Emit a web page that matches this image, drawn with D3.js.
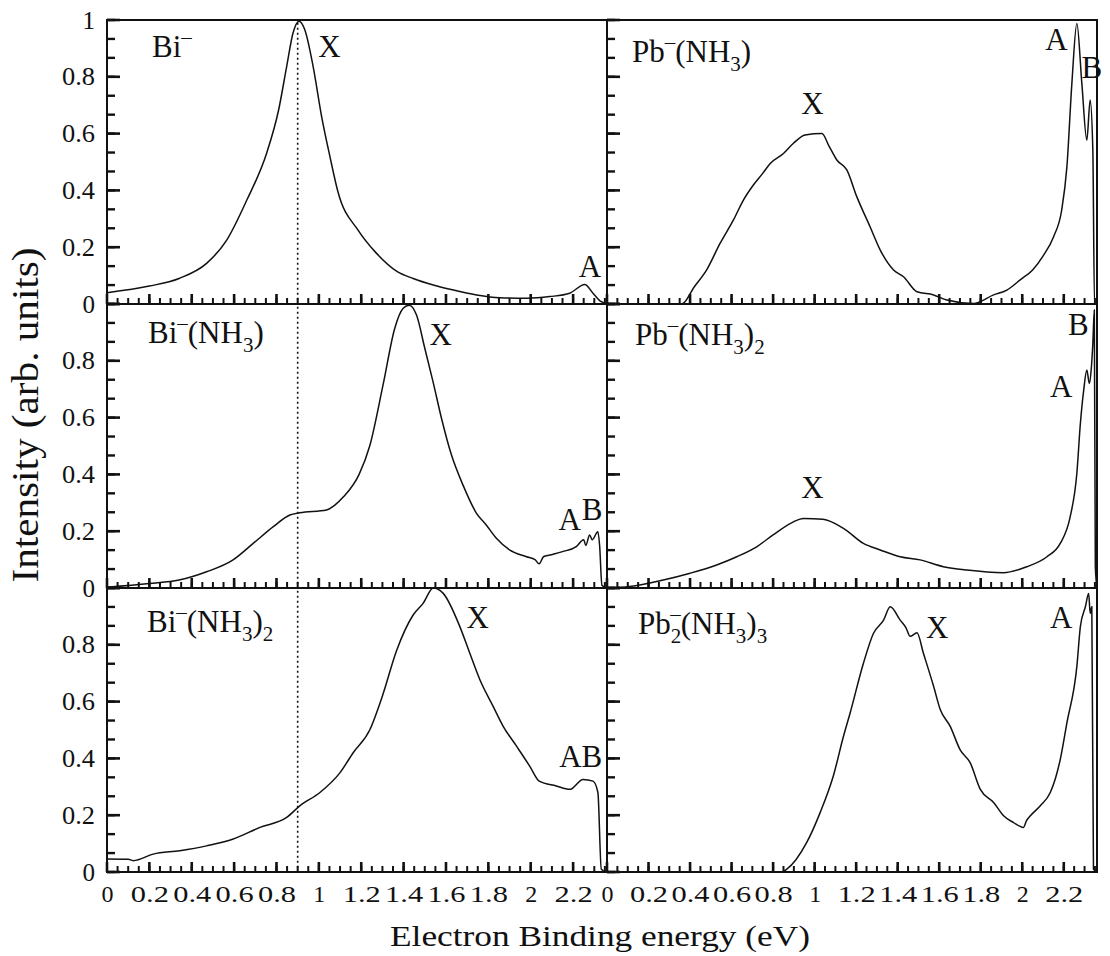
<!DOCTYPE html>
<html>
<head>
<meta charset="utf-8">
<script src="https://cdn.jsdelivr.net/npm/d3@7"></script>
<style>
  body { margin: 0; background: #fff; }
  text { font-family: "Liberation Serif", "Times New Roman", serif; fill: #111; }
</style>
</head>
<body>
<svg id="chart"></svg>
<script>
// spectra: [binding energy (eV), intensity]
var biMinus = [[0,0.04],[0.2,0.063],[0.34,0.09],[0.47,0.143],[0.565,0.225],[0.66,0.366],[0.753,0.53],
  [0.81,0.683],[0.848,0.836],[0.878,0.954],[0.906,0.996],[0.934,0.965],[0.973,0.836],[1.013,0.66],
  [1.052,0.52],[1.09,0.395],[1.185,0.26],[1.27,0.18],[1.37,0.114],[1.445,0.09],[1.54,0.067],
  [1.63,0.05],[1.744,0.032],[1.854,0.022],[1.98,0.02],[2.09,0.026],[2.184,0.038],[2.255,0.069],
  [2.294,0.038],[2.333,0.008],[2.36,0]];

var biNH3 = [[0,0.003],[0.2,0.016],[0.34,0.028],[0.47,0.057],[0.595,0.099],[0.69,0.157],[0.785,0.216],
  [0.863,0.257],[0.91,0.265],[1.036,0.275],[1.115,0.32],[1.19,0.40],[1.24,0.50],[1.303,0.715],
  [1.358,0.914],[1.398,0.985],[1.426,0.996],[1.461,0.961],[1.5,0.844],[1.539,0.726],[1.579,0.597],
  [1.626,0.468],[1.68,0.363],[1.744,0.263],[1.79,0.222],[1.838,0.175],[1.90,0.134],[1.98,0.110],
  [2.02,0.10],[2.04,0.085],[2.06,0.11],[2.09,0.116],[2.15,0.128],[2.215,0.146],[2.25,0.17],
  [2.26,0.15],[2.278,0.187],[2.29,0.17],[2.317,0.198],[2.325,0.151],[2.336,0.01],[2.36,0]];

var biNH3_2 = [[0,0.046],[0.1,0.045],[0.124,0.040],[0.218,0.063],[0.344,0.075],[0.47,0.092],[0.596,0.116],
  [0.722,0.157],[0.848,0.192],[0.91,0.233],[1.005,0.28],[1.10,0.35],[1.162,0.42],[1.24,0.50],
  [1.30,0.62],[1.367,0.78],[1.445,0.905],[1.492,0.946],[1.54,1.0],[1.586,0.982],[1.665,0.865],
  [1.712,0.771],[1.76,0.677],[1.822,0.584],[1.87,0.513],[1.933,0.443],[1.995,0.373],[2.04,0.32],
  [2.12,0.303],[2.184,0.291],[2.247,0.326],[2.294,0.32],[2.317,0.28],[2.333,0.01],[2.36,0]];

var pbNH3 = [[0,0],[0.36,0],[0.42,0.06],[0.48,0.12],[0.545,0.214],[0.609,0.296],[0.657,0.366],
  [0.705,0.419],[0.75,0.46],[0.786,0.495],[0.85,0.53],[0.898,0.566],[0.954,0.595],[1.035,0.60],
  [1.07,0.555],[1.107,0.507],[1.155,0.472],[1.203,0.378],[1.267,0.272],[1.316,0.19],[1.38,0.12],
  [1.428,0.096],[1.493,0.043],[1.573,0.032],[1.637,0.014],[1.765,0.002],[1.862,0.032],[1.926,0.049],
  [1.99,0.085],[2.05,0.12],[2.103,0.172],[2.151,0.237],[2.19,0.331],[2.215,0.483],[2.239,0.777],
  [2.263,0.988],[2.287,0.777],[2.311,0.577],[2.327,0.718],[2.34,0.54],[2.348,0],[2.36,0]];

var pbNH3_2 = [[0,0],[0.11,0.005],[0.271,0.028],[0.40,0.052],[0.528,0.081],[0.625,0.11],[0.721,0.145],
  [0.80,0.187],[0.898,0.233],[0.946,0.245],[1.04,0.242],[1.139,0.21],[1.235,0.157],[1.316,0.134],
  [1.412,0.11],[1.508,0.099],[1.62,0.075],[1.733,0.063],[1.91,0.054],[2.022,0.075],[2.119,0.11],
  [2.183,0.157],[2.231,0.251],[2.263,0.404],[2.28,0.58],[2.296,0.697],[2.311,0.768],[2.323,0.72],
  [2.332,0.768],[2.34,0.862],[2.347,0.979],[2.352,0.075],[2.36,0]];

var pb2NH3_3 = [[0,0],[0.84,0],[0.866,0.01],[0.962,0.104],[1.027,0.21],[1.09,0.338],[1.139,0.478],
  [1.171,0.56],[1.235,0.735],[1.283,0.84],[1.332,0.887],[1.364,0.934],[1.412,0.887],[1.44,0.86],
  [1.46,0.83],[1.493,0.842],[1.524,0.77],[1.573,0.654],[1.605,0.572],[1.653,0.513],[1.701,0.43],
  [1.749,0.385],[1.798,0.291],[1.862,0.245],[1.91,0.198],[1.958,0.174],[2.006,0.157],[2.02,0.18],
  [2.039,0.198],[2.087,0.233],[2.135,0.28],[2.16,0.33],[2.183,0.396],[2.215,0.525],[2.263,0.724],
  [2.28,0.865],[2.304,0.934],[2.32,0.981],[2.327,0.911],[2.335,0.934],[2.343,0.01],[2.36,0]];

var xTickLabels = [0, 0.2, 0.4, 0.6, 0.8, 1, 1.2, 1.4, 1.6, 1.8, 2, 2.2];
var yTickLabels = [0, 0.2, 0.4, 0.6, 0.8, 1];
var xDomain = [0, 2.36];
var dottedAt = 0.9;

var W = 1110, H = 956;
var colX = [[107, 607], [607, 1097]];
var rowY = [20, 304, 588];
var rowH = 284;

var svg = d3.select("#chart").attr("width", W).attr("height", H);

// name parts: [text, shift] shift 1 = superscript, -1 = subscript, 2 = sup stacked over previous sub
var panels = [
  { col: 0, row: 0, data: biMinus, name: [["Bi",0],["\u2013",1]], nx: 152, ny: 37,
    notes: [["X",1.05,0.87],["A",2.28,0.095]] },
  { col: 0, row: 1, data: biNH3, name: [["Bi",0],["\u2013",1],["(NH",0],["3",-1],[")",0]], nx: 148, ny: 39,
    notes: [["X",1.575,0.856],["A",2.184,0.204],["B",2.29,0.24]] },
  { col: 0, row: 2, data: biNH3_2, name: [["Bi",0],["\u2013",1],["(NH",0],["3",-1],[")",0],["2",-1]], nx: 147, ny: 44,
    notes: [["X",1.75,0.86],["AB",2.236,0.368]] },
  { col: 1, row: 0, data: pbNH3, name: [["Pb",0],["\u2013",1],["(NH",0],["3",-1],[")",0]], nx: 632, ny: 42,
    notes: [["X",0.99,0.67],["A",2.165,0.894],["B",2.335,0.795]] },
  { col: 1, row: 1, data: pbNH3_2, name: [["Pb",0],["\u2013",1],["(NH",0],["3",-1],[")",0],["2",-1]], nx: 635, ny: 41,
    notes: [["X",0.99,0.317],["A",2.187,0.673],["B",2.27,0.89]] },
  { col: 1, row: 2, data: pb2NH3_3, name: [["Pb",0],["2",-1],["\u2013",2],["(NH",0],["3",-1],[")",0],["3",-1]], nx: 638, ny: 46,
    notes: [["X",1.59,0.825],["A",2.187,0.86]] }
];

var minorX = d3.range(0, 2.3601, 0.05);
var majorX = d3.range(0, 2.3601, 0.2);
var minorY = d3.range(0, 16).map(function (k) { return k / 15; });

panels.forEach(function (p, i) {
  var x = d3.scaleLinear().domain(xDomain).range(colX[p.col]);
  var top = rowY[p.row];
  var y = d3.scaleLinear().domain([0, 1]).range([top + rowH, top]);
  var x0 = colX[p.col][0];
  var g = svg.append("g");

  svg.append("clipPath").attr("id", "clip" + i)
    .append("rect")
    .attr("x", x0).attr("y", top)
    .attr("width", colX[p.col][1] - x0).attr("height", rowH);

  // inward ticks: bottom edge and left edge of every panel
  g.selectAll(".xminor").data(minorX).join("line")
    .attr("x1", function (d) { return x(d); }).attr("x2", function (d) { return x(d); })
    .attr("y1", y(0)).attr("y2", y(0) - 6)
    .attr("stroke", "#111").attr("stroke-width", 2);
  g.selectAll(".xmajor").data(majorX).join("line")
    .attr("x1", function (d) { return x(d); }).attr("x2", function (d) { return x(d); })
    .attr("y1", y(0)).attr("y2", y(0) - 10)
    .attr("stroke", "#111").attr("stroke-width", 2.6);
  g.selectAll(".yminor").data(minorY).join("line")
    .attr("x1", x0).attr("x2", x0 + 8)
    .attr("y1", function (d) { return y(d); }).attr("y2", function (d) { return y(d); })
    .attr("stroke", "#111").attr("stroke-width", 2.4);
  g.selectAll(".ymajor").data(yTickLabels).join("line")
    .attr("x1", x0).attr("x2", x0 + 13)
    .attr("y1", function (d) { return y(d); }).attr("y2", function (d) { return y(d); })
    .attr("stroke", "#111").attr("stroke-width", 2.6);

  // y tick labels on the left column only
  if (p.col === 0) {
    var yl = p.row === 0 ? yTickLabels : yTickLabels.slice(0, 5);
    var ya = g.append("g")
      .attr("transform", "translate(" + x0 + ",0)")
      .call(d3.axisLeft(y).tickValues(yl).tickSize(0).tickPadding(12)
        .tickFormat(function (d) { return String(d); }));
    ya.select(".domain").remove();
    ya.selectAll("text")
      .style("font-family", "'Liberation Serif', serif")
      .style("font-size", "25px").attr("fill", "#333")
      .attr("textLength", function (d) { return String(d).length > 1 ? 33 : null; })
      .attr("lengthAdjust", "spacingAndGlyphs");
  }

  // x tick labels on the bottom row only
  if (p.row === 2) {
    var xa = g.append("g")
      .attr("transform", "translate(0," + (top + rowH) + ")")
      .call(d3.axisBottom(x).tickValues(xTickLabels).tickSize(0).tickPadding(13)
        .tickFormat(function (d) { return String(d); }));
    xa.select(".domain").remove();
    xa.selectAll("text")
      .style("font-family", "'Liberation Serif', serif")
      .style("font-size", "24px").attr("fill", "#333")
      .attr("textLength", function (d) { return String(d).length > 1 ? 38 : null; })
      .attr("lengthAdjust", "spacingAndGlyphs");
  }

  // dotted reference line in the Bi column
  if (p.col === 0) {
    g.append("line")
      .attr("x1", x(dottedAt)).attr("x2", x(dottedAt))
      .attr("y1", y(0.99)).attr("y2", y(0))
      .attr("stroke", "#111").attr("stroke-width", 1.6)
      .attr("stroke-dasharray", "2 3");
  }

  // spectrum
  var line = d3.line()
    .x(function (d) { return x(d[0]); })
    .y(function (d) { return y(d[1]); })
    .curve(d3.curveMonotoneX);
  g.append("path")
    .datum(p.data)
    .attr("clip-path", "url(#clip" + i + ")")
    .attr("fill", "none")
    .attr("stroke", "#111")
    .attr("stroke-width", 1.5)
    .attr("d", line);

  // frame
  g.append("rect")
    .attr("x", x0).attr("y", top)
    .attr("width", colX[p.col][1] - x0).attr("height", rowH)
    .attr("fill", "none").attr("stroke", "#111").attr("stroke-width", 2);

  // peak labels
  p.notes.forEach(function (n) {
    g.append("text")
      .attr("x", x(n[1])).attr("y", y(n[2]))
      .attr("text-anchor", "middle")
      .style("font-size", "31px")
      .text(n[0]);
  });

  // species name
  var t = g.append("text").attr("x", p.nx).attr("y", top + p.ny).style("font-size", "31px");
  var cur = 0;
  p.name.forEach(function (part) {
    var shift = part[1];
    var target = shift === -1 ? 9 : shift === 0 ? 0 : -13;
    var ts = t.append("tspan").attr("dy", target - cur).text(part[0]);
    if (shift !== 0) ts.style("font-size", "21px");
    if (shift === 2) ts.attr("dx", -11);
    cur = target;
  });
});

// axis titles
svg.append("text")
  .attr("x", 600).attr("y", 946)
  .attr("text-anchor", "middle")
  .attr("textLength", 420).attr("lengthAdjust", "spacingAndGlyphs")
  .style("font-size", "30px")
  .text("Electron Binding energy (eV)");

svg.append("text")
  .attr("transform", "translate(38,415) rotate(-90)")
  .attr("text-anchor", "middle")
  .attr("textLength", 335).attr("lengthAdjust", "spacingAndGlyphs")
  .style("font-size", "38px")
  .text("Intensity (arb. units)");
</script>
</body>
</html>
